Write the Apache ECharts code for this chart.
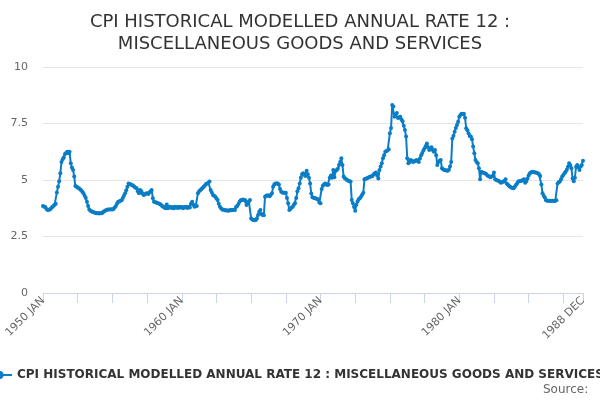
<!DOCTYPE html>
<html>
<head>
<meta charset="utf-8">
<script src="https://cdn.jsdelivr.net/npm/echarts@6/dist/echarts.min.js"></script>
<style>
  html, body { margin: 0; padding: 0; background: #fff; }
  #chart { width: 600px; height: 400px; }
</style>
</head>
<body>
<div id="chart"></div>
<script>
  // monthly rate, one row per year
  var firstYear = 1950;
  var lastYear = 1988;
  var monthNames = ["JAN", "FEB", "MAR", "APR", "MAY", "JUN", "JUL", "AUG", "SEP", "OCT", "NOV", "DEC"];
  var yTicks = [0, 2.5, 5, 7.5, 10];

  var rate1950s = [
    3.85, 3.82, 3.8, 3.72, 3.67, 3.68, 3.7, 3.75, 3.8, 3.85, 3.9, 3.95,
    4.45, 4.7, 4.95, 5.3, 5.8, 5.92, 6.0, 6.15, 6.2, 6.25, 6.18, 6.25,
    5.74, 5.55, 5.44, 5.15, 4.73, 4.7, 4.67, 4.63, 4.59, 4.55, 4.48, 4.41,
    4.3, 4.2, 4.04, 3.85, 3.7, 3.64, 3.62, 3.58, 3.57, 3.55, 3.53, 3.53,
    3.53, 3.52, 3.54, 3.53, 3.58, 3.62, 3.65, 3.67, 3.69, 3.7, 3.7, 3.71,
    3.7, 3.72, 3.78, 3.85, 3.95, 4.04, 4.05, 4.08, 4.1, 4.2, 4.3, 4.41,
    4.55, 4.7, 4.85, 4.82, 4.8, 4.78, 4.75, 4.7, 4.66, 4.63, 4.5, 4.41,
    4.56, 4.5, 4.4, 4.34, 4.36, 4.4, 4.41, 4.38, 4.45, 4.5, 4.56, 4.19,
    4.04, 4.02, 4.0, 3.98, 3.96, 3.94, 3.9, 3.85, 3.82, 3.78, 3.75, 3.92,
    3.75, 3.8, 3.82, 3.76, 3.8, 3.75, 3.82, 3.77, 3.8, 3.76, 3.82, 3.78
  ];
  var rate1960s = [
    3.8, 3.75, 3.8, 3.78, 3.82, 3.76, 3.8, 3.78, 3.95, 4.04, 3.9, 3.82,
    3.84, 3.85, 4.41, 4.5, 4.55, 4.6, 4.65, 4.7, 4.76, 4.82, 4.85, 4.88,
    4.93, 4.56, 4.45, 4.34, 4.3, 4.26, 4.18, 4.11, 3.95, 3.82, 3.75, 3.7,
    3.68, 3.67, 3.65, 3.66, 3.64, 3.65, 3.67, 3.66, 3.67, 3.68, 3.67, 3.8,
    3.85, 3.94, 4.04, 4.1, 4.12, 4.14, 4.12, 4.1, 3.89, 3.97, 4.05, 4.11,
    3.3, 3.25, 3.23, 3.22, 3.23, 3.3, 3.45, 3.6, 3.67, 3.5, 3.45, 3.44,
    4.26, 4.3, 4.33, 4.3, 4.28, 4.35, 4.41, 4.7, 4.8, 4.85, 4.85, 4.84,
    4.8, 4.6, 4.48, 4.45, 4.44, 4.44, 4.44, 4.2, 3.97, 3.67, 3.72, 3.78,
    3.82, 3.9, 3.97, 4.2, 4.5, 4.63, 4.85, 5.1, 5.25, 5.3, 5.22, 5.18,
    5.41, 5.25, 5.1, 4.85, 4.4, 4.24, 4.22, 4.2, 4.18, 4.16, 4.14, 4.0
  ];
  var rate1970s = [
    3.97, 4.6, 4.75, 4.8, 4.85, 4.8, 4.78, 4.8, 5.1, 5.2, 5.1, 5.44,
    5.12, 5.4, 5.44, 5.5, 5.66, 5.8, 5.96, 5.66, 5.15, 5.08, 5.04, 5.0,
    4.97, 4.95, 4.93, 4.11, 3.97, 3.8, 3.64, 3.9, 4.05, 4.15, 4.19, 4.26,
    4.35, 4.44, 5.03, 5.05, 5.07, 5.1, 5.12, 5.15, 5.16, 5.18, 5.25, 5.3,
    5.33, 5.2, 5.07, 5.44, 5.6, 5.74, 5.96, 6.1, 6.25, 6.28, 6.3, 6.36,
    7.07, 7.3, 8.32, 8.25, 7.8, 7.9, 7.96, 7.74, 7.78, 7.8, 7.68, 7.6,
    7.4, 7.21, 6.92, 5.96, 5.74, 5.8, 5.88, 5.85, 5.8, 5.82, 5.85, 5.88,
    5.84, 5.8, 5.95, 6.1, 6.2, 6.3, 6.4, 6.5, 6.62, 6.45, 6.33, 6.4,
    6.45, 6.33, 6.25, 6.33, 6.1, 5.66, 5.8, 5.85, 5.88, 5.52, 5.48, 5.44,
    5.43, 5.42, 5.41, 5.45, 5.6, 5.8, 6.84, 6.96, 7.14, 7.3, 7.43, 7.58
  ];
  var rate1980s = [
    7.8, 7.88, 7.93, 7.92, 7.93, 7.75, 7.29, 7.2, 7.07, 6.95, 6.92, 6.8,
    6.48, 6.18, 5.88, 5.8, 5.74, 5.52, 5.03, 5.37, 5.33, 5.32, 5.3, 5.28,
    5.22, 5.18, 5.15, 5.12, 5.15, 5.18, 5.33, 5.03, 5.0, 4.98, 4.97, 4.92,
    4.88, 4.9, 4.93, 4.95, 5.03, 4.85, 4.8, 4.73, 4.7, 4.67, 4.65, 4.63,
    4.7, 4.78, 4.85, 4.93, 4.95, 4.96, 4.97, 5.0, 5.03, 4.88, 4.95, 5.07,
    5.2, 5.3, 5.33, 5.37, 5.35, 5.34, 5.33, 5.32, 5.3, 5.25, 5.18, 4.8,
    4.41, 4.3, 4.23, 4.1, 4.08, 4.08, 4.08, 4.07, 4.08, 4.08, 4.07, 4.08,
    4.1, 4.85, 4.9, 4.93, 5.03, 5.15, 5.22, 5.3, 5.37, 5.45, 5.59, 5.74,
    5.65, 5.52, 5.07, 4.95, 5.1, 5.59, 5.66, 5.55, 5.44, 5.6, 5.66, 5.85
  ];

  var seriesName = "CPI HISTORICAL MODELLED ANNUAL RATE 12 : MISCELLANEOUS GOODS AND SERVICES";
  var chartTitle = "CPI HISTORICAL MODELLED ANNUAL RATE 12 :\nMISCELLANEOUS GOODS AND SERVICES";

  var months = [];
  for (var y = firstYear; y <= lastYear; y++) {
    for (var m = 0; m < 12; m++) {
      months.push(y + " " + monthNames[m]);
    }
  }
  var values = rate1950s.concat(rate1960s, rate1970s, rate1980s);
  var lastIdx = months.length - 1;

  var chart = echarts.init(document.getElementById("chart"), null, {renderer: "canvas"});
  chart.setOption({
    animation: false,
    textStyle: {fontFamily: "DejaVu Sans"},
    title: [{
      text: chartTitle,
      left: "center",
      top: 6,
      textStyle: {fontSize: 18, fontWeight: "normal", color: "#333", lineHeight: 22, fontFamily: "DejaVu Sans"}
    }, {
      text: "Source: ",
      right: 3,
      bottom: -1,
      textStyle: {fontSize: 12, fontWeight: "normal", color: "#666", fontFamily: "DejaVu Sans"}
    }],
    legend: {
      left: -19,
      top: 364,
      itemWidth: 25,
      itemHeight: 10,
      itemGap: 5,
      textStyle: {fontSize: 12, fontWeight: "bold", color: "#333", fontFamily: "DejaVu Sans"},
      data: [seriesName]
    },
    grid: {left: 43, right: 17, top: 67, bottom: 107, containLabel: false},
    xAxis: {
      type: "category",
      data: months,
      boundaryGap: false,
      axisLine: {lineStyle: {color: "#ccd6eb"}},
      axisTick: {
        length: 10,
        lineStyle: {color: "#ccd6eb"},
        interval: function (i) { return i % 30 === 0 || i === lastIdx; }
      },
      axisLabel: {
        rotate: 45,
        color: "#666",
        fontSize: 11,
        margin: 6,
        interval: function (i) { return i % 120 === 0 || i === lastIdx; }
      },
      splitLine: {show: false}
    },
    yAxis: {
      type: "value",
      min: yTicks[0],
      max: yTicks[yTicks.length - 1],
      interval: 2.5,
      axisLine: {show: false},
      axisTick: {show: false},
      axisLabel: {color: "#666", fontSize: 11, margin: 15},
      splitLine: {lineStyle: {color: "#e6e6e6"}}
    },
    series: [{
      name: seriesName,
      type: "line",
      data: values,
      color: "#0a7dc6",
      lineStyle: {width: 2},
      symbol: "circle",
      symbolSize: 4,
      showAllSymbol: true
    }]
  });
</script>
</body>
</html>
